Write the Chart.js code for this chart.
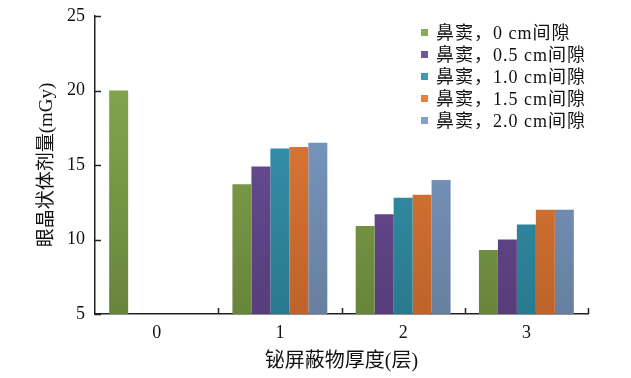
<!DOCTYPE html>
<html>
<head>
<meta charset="utf-8">
<script src="https://cdn.jsdelivr.net/npm/chart.js@4.4.0/dist/chart.umd.min.js"></script>
<style>
  body { margin: 0; background: #fff; }
  #wrap { position: relative; width: 631px; height: 378px; }
  #legend { position: absolute; left: 421px; top: 22px; font-family: "Liberation Serif", "Noto Sans CJK SC", serif; font-size: 18px; letter-spacing: 1px; color: #111; }
  #legend div { height: 22px; line-height: 22px; white-space: nowrap; }
  #legend span { display: inline-block; width: 7px; height: 7px; margin-right: 8px; vertical-align: 3px; }
</style>
</head>
<body>
<div id="wrap">
  <canvas id="chart" width="631" height="378"></canvas>
  <div id="legend"></div>
</div>
<script>
const categories = ["0", "1", "2", "3"];
const seriesNames = ["鼻窦，0 cm间隙", "鼻窦，0.5 cm间隙", "鼻窦，1.0 cm间隙", "鼻窦，1.5 cm间隙", "鼻窦，2.0 cm间隙"];
const gap0 = [20.0, 13.7, 10.9, 9.3];
const gap05 = [null, 14.9, 11.7, 10.0];
const gap10 = [null, 16.1, 12.8, 11.0];
const gap15 = [null, 16.2, 13.0, 12.0];
const gap20 = [null, 16.5, 14.0, 12.0];
const yTicks = [5, 10, 15, 20, 25];

// top / bottom colours of each bar gradient
const topColors = ["#8aad52", "#7054a0", "#3a9bb8", "#e8803a", "#7fa0d0"];
const bottomColors = ["#68853b", "#573d7a", "#297a8e", "#bd632b", "#67809f"];

function gradientFor(i) {
  return function (context) {
    const chart = context.chart;
    const area = chart.chartArea;
    if (!area) return topColors[i];
    const g = chart.ctx.createLinearGradient(0, area.top, 0, area.bottom);
    g.addColorStop(0, topColors[i]);
    g.addColorStop(1, bottomColors[i]);
    return g;
  };
}

const allValues = [gap0, gap05, gap10, gap15, gap20];
const datasets = allValues.map((vals, i) => ({
  label: seriesNames[i],
  data: vals,
  backgroundColor: gradientFor(i),
  borderWidth: 0,
  categoryPercentage: 0.77,
  barPercentage: 1.0
}));

// inward tick marks, like the original figure
const innerTicks = {
  id: 'innerTicks',
  afterDraw(chart) {
    const ctx = chart.ctx;
    const x = chart.scales.x;
    const y = chart.scales.y;
    ctx.save();
    ctx.strokeStyle = "#222";
    ctx.lineWidth = 1.5;
    ctx.beginPath();
    yTicks.forEach(v => {
      const py = Math.round(y.getPixelForValue(v)) + 0.5;
      ctx.moveTo(x.left, py);
      ctx.lineTo(x.left + 6, py);
    });
    const step = x.width / categories.length;
    for (let i = 1; i <= categories.length; i++) {
      const px = Math.round(x.left + i * step) + 0.5;
      ctx.moveTo(px, y.bottom);
      ctx.lineTo(px, y.bottom - 6);
    }
    ctx.stroke();
    ctx.restore();
  }
};

const serif = "'Liberation Serif', 'Noto Sans CJK SC', serif";

new Chart(document.getElementById("chart"), {
  type: "bar",
  data: { labels: categories, datasets: datasets },
  options: {
    responsive: false,
    animation: false,
    layout: { padding: { top: 16, right: 43, left: 34, bottom: 0 } },
    plugins: { legend: { display: false }, tooltip: { enabled: false } },
    scales: {
      x: {
        grid: { display: false, drawTicks: false },
        border: { display: true, color: "#222", width: 1.5 },
        ticks: { color: "#111", font: { family: serif, size: 18 }, padding: 8 },
        title: { display: true, text: "铋屏蔽物厚度(层)", color: "#111", font: { family: serif, size: 20 }, padding: { top: 6 } },
        afterFit(scale) { scale.height = 64; }
      },
      y: {
        min: 5,
        max: 25,
        afterBuildTicks(scale) { scale.ticks = yTicks.map(v => ({ value: v })); },
        grid: { display: false, drawTicks: false },
        border: { display: true, color: "#222", width: 1.5 },
        ticks: { color: "#111", font: { family: serif, size: 18 }, padding: 10 },
        title: { display: true, text: "眼晶状体剂量(mGy)", color: "#111", font: { family: serif, size: 19 }, padding: 2 },
        afterFit(scale) {
          scale.width = 61;
          scale.paddingTop = 0;
          scale.paddingBottom = 0;
        }
      }
    }
  },
  plugins: [innerTicks]
});

const legendDiv = document.getElementById("legend");
seriesNames.forEach((name, i) => {
  const row = document.createElement("div");
  row.innerHTML = `<span style="background:${topColors[i]}"></span>${name}`;
  legendDiv.appendChild(row);
});
</script>
</body>
</html>
